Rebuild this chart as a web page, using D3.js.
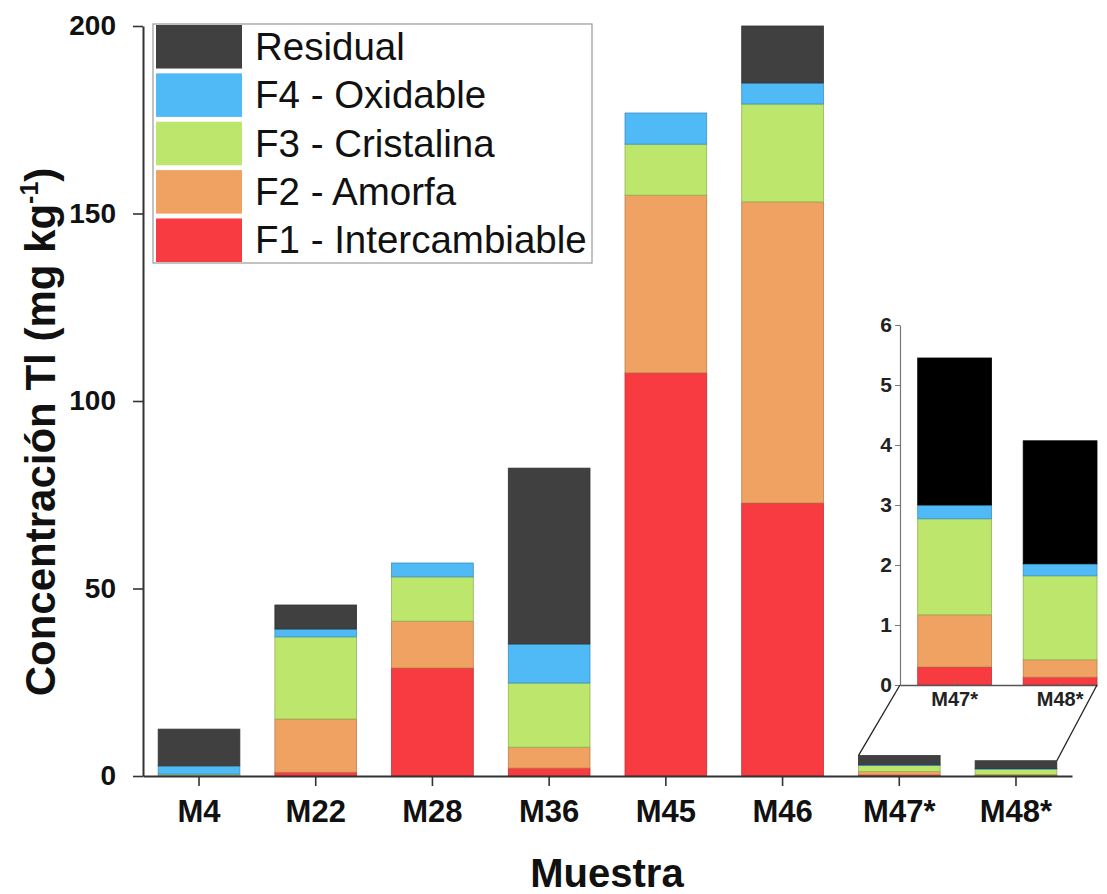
<!DOCTYPE html>
<html>
<head>
<meta charset="utf-8">
<script src="https://cdn.jsdelivr.net/npm/d3@7"></script>
<style>
  html, body { margin: 0; padding: 0; background: #fff; }
  svg { display: block; font-family: "Liberation Sans", Arial, sans-serif; }
</style>
</head>
<body>
<svg id="chart" width="1107" height="894"></svg>
<script>
// Tl fractionation per sample (mg kg-1), stacked bottom to top
const samples = ["M4", "M22", "M28", "M36", "M45", "M46", "M47*", "M48*"];
const f1Intercambiable = [0.0, 1.0, 28.8, 2.1, 107.5, 72.8, 0.30, 0.13];
const f2Amorfa         = [0.2, 14.2, 12.5, 5.6, 47.4, 80.3, 0.87, 0.29];
const f3Cristalina     = [0.3, 21.9, 11.8, 17.1, 13.6, 26.1, 1.60, 1.40];
const f4Oxidable       = [2.2, 2.1, 3.7, 10.4, 8.3, 5.6, 0.23, 0.20];
const residual         = [9.8, 6.4, 0.0, 46.9, 0.0, 15.2, 2.45, 2.05];

const fractionKeys   = ["F1", "F2", "F3", "F4", "Res"];
const fractionLabels = ["F1 - Intercambiable", "F2 - Amorfa", "F3 - Cristalina", "F4 - Oxidable", "Residual"];
const fractionColors = ["#f83b40", "#f0a262", "#bde66d", "#4fbaf5", "#404040"];
const yTicks = [0, 50, 100, 150, 200];
const insetSamples = ["M47*", "M48*"];
const insetTicks = [0, 1, 2, 3, 4, 5, 6];

const rows = samples.map((s, i) => ({
  sample: s,
  F1: f1Intercambiable[i], F2: f2Amorfa[i], F3: f3Cristalina[i],
  F4: f4Oxidable[i], Res: residual[i]
}));
const series = d3.stack().keys(fractionKeys)(rows);
const color = d3.scaleOrdinal().domain(fractionKeys).range(fractionColors);

const svg = d3.select("#chart");

// ---------- main chart ----------
const x = d3.scaleBand().domain(samples).range([143, 1072]).paddingInner(0.3).paddingOuter(0.13);
const y = d3.scaleLinear().domain([0, 200]).range([776, 26]);

const gBars = svg.append("g");
gBars.selectAll("g.layer").data(series).join("g")
  .attr("class", "layer")
  .attr("fill", d => color(d.key))
  .attr("stroke", d => d3.color(color(d.key)).darker(0.7))
  .attr("stroke-width", 0.8)
  .selectAll("rect").data(d => d.filter(p => p[1] - p[0] > 0)).join("rect")
  .attr("x", d => x(d.data.sample))
  .attr("width", x.bandwidth())
  .attr("y", d => y(d[1]))
  .attr("height", d => y(d[0]) - y(d[1]));

// y axis
const yAxis = svg.append("g").attr("transform", "translate(143,0)")
  .call(d3.axisLeft(y).tickValues(yTicks).tickSize(10).tickSizeOuter(0).tickPadding(17));
yAxis.select(".domain").attr("stroke", "#333").attr("stroke-width", 2);
yAxis.selectAll(".tick line").attr("stroke", "#333").attr("stroke-width", 1.6);
yAxis.selectAll(".tick text").attr("font-size", 28).attr("font-weight", "bold")
  .attr("fill", "#111").attr("font-family", "'Liberation Sans', Arial, sans-serif");

// x axis
const xAxis = svg.append("g").attr("transform", "translate(0,776)")
  .call(d3.axisBottom(x).tickSize(10).tickSizeOuter(0).tickPadding(14));
xAxis.select(".domain").attr("stroke", "#333").attr("stroke-width", 2);
xAxis.selectAll(".tick line").attr("stroke", "#333").attr("stroke-width", 1.6);
xAxis.selectAll(".tick text").attr("font-size", 31).attr("font-weight", "bold")
  .attr("fill", "#111").attr("font-family", "'Liberation Sans', Arial, sans-serif");

// axis titles
svg.append("text")
  .attr("x", 607).attr("y", 887)
  .attr("text-anchor", "middle")
  .attr("font-size", 40).attr("font-weight", "bold").attr("fill", "#111")
  .text("Muestra");

const yTitle = svg.append("text")
  .attr("transform", "translate(55,432) rotate(-90)")
  .attr("text-anchor", "middle")
  .attr("font-size", 42).attr("font-weight", "bold").attr("fill", "#111");
yTitle.append("tspan").text("Concentración Tl (mg kg");
yTitle.append("tspan").attr("font-size", 25).attr("dy", -17).text("-1");
yTitle.append("tspan").attr("dy", 17).text(")");

// ---------- legend ----------
const legend = svg.append("g");
legend.append("rect")
  .attr("x", 153).attr("y", 24).attr("width", 439).attr("height", 239)
  .attr("fill", "#fff").attr("stroke", "#999").attr("stroke-width", 1.2);
const legendOrder = [4, 3, 2, 1, 0];
const legendY = d3.scaleBand().domain(legendOrder).range([25, 262]).paddingInner(0.1);
legendOrder.forEach(k => {
  legend.append("rect")
    .attr("x", 156).attr("width", 86)
    .attr("y", legendY(k)).attr("height", legendY.bandwidth())
    .attr("fill", fractionColors[k]);
  legend.append("text")
    .attr("x", 255).attr("y", legendY(k) + legendY.bandwidth() / 2 + 13)
    .attr("font-size", 38.5).attr("fill", "#111")
    .text(fractionLabels[k]);
});

// ---------- inset for the low-concentration samples ----------
const insetRows = rows.filter(r => insetSamples.includes(r.sample));
const insetSeries = d3.stack().keys(fractionKeys)(insetRows);
const xi = d3.scaleBand().domain(insetSamples).range([900, 1097])
  .paddingInner(0.3).paddingOuter(0.084).align(1);
const yi = d3.scaleLinear().domain([0, 6]).range([685, 325]);
const insetColor = d3.scaleOrdinal().domain(fractionKeys)
  .range(fractionColors.slice(0, 4).concat(["#000000"]));

const gInset = svg.append("g");
gInset.selectAll("g.layer").data(insetSeries).join("g")
  .attr("class", "layer")
  .attr("fill", d => insetColor(d.key))
  .attr("stroke", d => d3.color(insetColor(d.key)).darker(0.7))
  .attr("stroke-width", 0.8)
  .selectAll("rect").data(d => d).join("rect")
  .attr("x", d => xi(d.data.sample))
  .attr("width", xi.bandwidth())
  .attr("y", d => yi(d[1]))
  .attr("height", d => yi(d[0]) - yi(d[1]));

const yiAxis = gInset.append("g").attr("transform", "translate(900,0)")
  .call(d3.axisLeft(yi).tickValues(insetTicks).tickFormat(d3.format("d"))
    .tickSize(5).tickSizeOuter(0).tickPadding(3));
yiAxis.select(".domain").attr("stroke", "#777").attr("stroke-width", 1.2);
yiAxis.selectAll(".tick line").attr("stroke", "#777");
yiAxis.selectAll(".tick text").attr("font-size", 21).attr("font-weight", "bold")
  .attr("fill", "#222").attr("font-family", "'Liberation Sans', Arial, sans-serif");

const xiAxis = gInset.append("g").attr("transform", "translate(0,685)")
  .call(d3.axisBottom(xi).tickSize(-3).tickSizeOuter(0).tickPadding(7));
xiAxis.select(".domain").attr("stroke", "#555").attr("stroke-width", 1.4);
xiAxis.selectAll(".tick line").attr("stroke", "#777");
xiAxis.selectAll(".tick text").attr("font-size", 20).attr("font-weight", "bold")
  .attr("fill", "#222").attr("font-family", "'Liberation Sans', Arial, sans-serif");

// connectors from the inset base to the small bars of the main chart
const tot = r => fractionKeys.reduce((s, k) => s + r[k], 0);
const r47 = rows.find(r => r.sample === "M47*");
const r48 = rows.find(r => r.sample === "M48*");
gInset.append("line")
  .attr("x1", xi.range()[0]).attr("y1", yi(0))
  .attr("x2", x("M47*")).attr("y2", y(tot(r47)))
  .attr("stroke", "#222").attr("stroke-width", 1.3);
gInset.append("line")
  .attr("x1", xi.range()[1]).attr("y1", yi(0))
  .attr("x2", x("M48*") + x.bandwidth()).attr("y2", y(tot(r48)))
  .attr("stroke", "#222").attr("stroke-width", 1.3);
</script>
</body>
</html>
